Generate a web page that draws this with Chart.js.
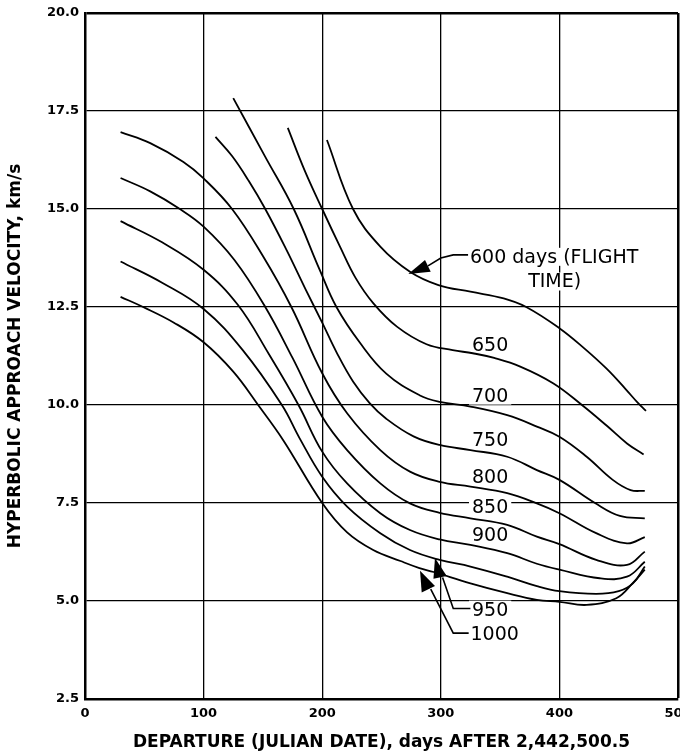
<!DOCTYPE html>
<html>
<head>
<meta charset="utf-8">
<script src="https://cdn.jsdelivr.net/npm/chart.js@4.4.1/dist/chart.umd.min.js"></script>
<style>
  html, body { margin: 0; padding: 0; background: #fff; }
</style>
</head>
<body>
<canvas id="myChart" width="680" height="755"></canvas>
<script>
// departure day (x) and approach velocity km/s (y) for each flight time curve
const days600 = [204, 226, 249, 274, 298, 325, 353, 372, 400, 420, 440, 456, 466, 473];
const vel600 = [16.76, 15.0, 14.04, 13.40, 13.06, 12.89, 12.72, 12.5, 11.96, 11.47, 10.92, 10.4, 10.06, 9.85];

const days650 = [171, 185, 200, 215, 228, 243, 263, 288, 310, 327, 345, 367, 395, 419, 440, 457, 471];
const vel650 = [17.07, 16.0, 15.0, 14.04, 13.25, 12.6, 12.0, 11.55, 11.4, 11.32, 11.2, 10.98, 10.55, 10.0, 9.47, 9.02, 8.74];

const days700 = [125, 152, 176, 198, 212, 232, 254, 282, 299, 325, 356, 381, 400, 423, 445, 460, 472];
const vel700 = [17.83, 16.33, 15.0, 13.44, 12.5, 11.58, 10.8, 10.25, 10.08, 9.96, 9.74, 9.45, 9.19, 8.68, 8.09, 7.83, 7.81];

const days750 = [110, 124, 138, 152, 170, 186, 200, 212, 226, 240, 254, 277, 299, 325, 356, 381, 400, 430, 451, 472];
const vel750 = [16.84, 16.35, 15.72, 15.0, 13.95, 12.95, 12.1, 11.35, 10.6, 10.05, 9.65, 9.2, 8.98, 8.85, 8.68, 8.34, 8.09, 7.5, 7.17, 7.11];

const days800 = [30, 55, 83, 100, 124, 150, 174, 200, 221, 249, 274, 299, 325, 356, 381, 400, 431, 457, 472];
const vel800 = [16.96, 16.68, 16.2, 15.78, 15.0, 13.8, 12.5, 10.81, 9.79, 8.85, 8.3, 8.04, 7.92, 7.75, 7.49, 7.24, 6.73, 6.47, 6.63];

const days850 = [30, 55, 80, 100, 126, 152, 175, 200, 221, 249, 274, 299, 325, 356, 381, 400, 431, 457, 472];
const vel850 = [15.79, 15.45, 15.0, 14.55, 13.7, 12.5, 11.2, 9.7, 8.85, 8.0, 7.49, 7.25, 7.11, 6.94, 6.64, 6.45, 6.05, 5.92, 6.26];

const days900 = [30, 65, 100, 129, 155, 180, 200, 221, 249, 274, 299, 325, 356, 381, 400, 434, 457, 472];
const vel900 = [14.69, 14.15, 13.45, 12.55, 11.3, 10.0, 8.81, 8.0, 7.24, 6.81, 6.57, 6.43, 6.22, 5.95, 5.8, 5.58, 5.62, 6.0];

const days950 = [30, 65, 100, 133, 166, 181, 200, 221, 249, 274, 299, 325, 356, 381, 400, 431, 450, 462, 472];
const vel950 = [13.66, 13.12, 12.45, 11.4, 10.0, 9.15, 8.17, 7.41, 6.73, 6.3, 6.05, 5.88, 5.62, 5.38, 5.25, 5.18, 5.25, 5.45, 5.88];

const days1000 = [30, 49, 75, 100, 125, 146, 167, 200, 221, 243, 266, 282, 294, 325, 356, 381, 400, 423, 448, 462, 472];
const vel1000 = [12.76, 12.5, 12.1, 11.6, 10.85, 10.0, 9.11, 7.5, 6.75, 6.3, 6.02, 5.84, 5.74, 5.45, 5.2, 5.03, 4.98, 4.9, 5.07, 5.46, 5.8];

const flightTimes = ['600', '650', '700', '750', '800', '850', '900', '950', '1000'];
const xTicks = [0, 100, 200, 300, 400, 500];
const yTicks = [2.5, 5, 7.5, 10, 12.5, 15, 17.5, 20];

const curves = [
  [days600, vel600], [days650, vel650], [days700, vel700], [days750, vel750],
  [days800, vel800], [days850, vel850], [days900, vel900], [days950, vel950], [days1000, vel1000]
];

// curve labels, placed in data units
const notes = [
  { text: '600 days (FLIGHT', x: 324.6, y: 13.78, align: 'left' },
  { text: 'TIME)', x: 396, y: 13.15, align: 'center' },
  { text: '650', x: 326.3, y: 11.54, align: 'left' },
  { text: '700', x: 326.3, y: 10.24, align: 'left' },
  { text: '750', x: 326.3, y: 9.11, align: 'left' },
  { text: '800', x: 326.3, y: 8.17, align: 'left' },
  { text: '850', x: 326.3, y: 7.39, align: 'left' },
  { text: '900', x: 326.3, y: 6.67, align: 'left' },
  { text: '950', x: 326.3, y: 4.78, align: 'left' },
  { text: '1000', x: 325.0, y: 4.15, align: 'left' }
];

const arrows = [
  { tip: [272.6, 13.34], base: [[286.7, 13.70], [291.5, 13.40]], lead: [[289.2, 13.55], [300, 13.75], [310.5, 13.83], [323, 13.83]] },
  { tip: [295.1, 6.10], base: [[293.8, 5.57], [305.0, 5.64]], lead: [[301.5, 5.6], [310.5, 4.81], [325, 4.81]] },
  { tip: [282.5, 5.77], base: [[283.9, 5.22], [295.1, 5.38]], lead: [[291.5, 5.3], [310.5, 4.18], [323.5, 4.18]] }
];

const FONT = "'DejaVu Sans', 'Liberation Sans', sans-serif";

const datasets = curves.map((c, i) => ({
  label: flightTimes[i],
  data: c[0].map((d, k) => ({ x: d, y: c[1][k] })),
  borderColor: '#000',
  borderWidth: 1.8,
  pointRadius: 0,
  tension: 0.4,
  fill: false
}));

function px(chart, p) {
  return [chart.scales.x.getPixelForValue(p[0]), chart.scales.y.getPixelForValue(p[1])];
}

const notesPlugin = {
  id: 'notes',
  beforeDatasetsDraw(chart) {
    const ctx = chart.ctx;
    ctx.save();
    ctx.font = '19px ' + FONT;
    ctx.fillStyle = '#fff';
    notes.forEach(n => {
      const [x, y] = px(chart, [n.x, n.y]);
      const w = ctx.measureText(n.text).width;
      const left = n.align === 'center' ? x - w / 2 : x;
      ctx.fillRect(left - 3, y - 9, w + 6, 18);
    });
    ctx.restore();
  },
  afterDatasetsDraw(chart) {
    const ctx = chart.ctx;
    ctx.save();
    ctx.font = '19px ' + FONT;
    ctx.fillStyle = '#000';
    ctx.textBaseline = 'middle';
    notes.forEach(n => {
      const [x, y] = px(chart, [n.x, n.y]);
      ctx.textAlign = n.align;
      ctx.fillText(n.text, x, y + 1);
    });
    ctx.strokeStyle = '#000';
    ctx.lineWidth = 1.6;
    arrows.forEach(a => {
      const t = px(chart, a.tip);
      const b1 = px(chart, a.base[0]);
      const b2 = px(chart, a.base[1]);
      ctx.beginPath();
      ctx.moveTo(t[0], t[1]);
      ctx.lineTo(b1[0], b1[1]);
      ctx.lineTo(b2[0], b2[1]);
      ctx.closePath();
      ctx.fill();
      ctx.beginPath();
      a.lead.forEach((p, k) => {
        const q = px(chart, p);
        if (k === 0) ctx.moveTo(q[0], q[1]); else ctx.lineTo(q[0], q[1]);
      });
      ctx.stroke();
    });
    ctx.restore();
  }
};

const ctx = document.getElementById('myChart').getContext('2d');
const myChart = new Chart(ctx, {
  type: 'line',
  data: { datasets: datasets },
  plugins: [notesPlugin],
  options: {
    responsive: false,
    animation: false,
    layout: { padding: { top: 13, right: 2, left: 0, bottom: 0 } },
    plugins: { legend: { display: false }, tooltip: { enabled: false } },
    scales: {
      x: {
        type: 'linear',
        min: 0,
        max: 500,
        afterBuildTicks: s => { s.ticks = xTicks.map(v => ({ value: v })); },
        ticks: { color: '#000', font: { family: FONT, size: 13, weight: 'bold' }, padding: 7, maxRotation: 0, autoSkip: false },
        grid: { color: '#000', lineWidth: c => (c.tick && c.tick.value === 500 ? 2.5 : 1.3), drawTicks: false },
        border: { display: true, color: '#000', width: 2.5 },
        title: {
          display: true,
          text: 'DEPARTURE (JULIAN DATE), days AFTER 2,442,500.5',
          color: '#000',
          font: { family: FONT, size: 17, weight: 'bold' },
          padding: { top: 0, bottom: 2 }
        },
        afterFit: s => { s.height = 56; s.paddingLeft = 0; s.paddingRight = 0; }
      },
      y: {
        type: 'linear',
        min: 2.5,
        max: 20,
        afterBuildTicks: s => { s.ticks = yTicks.map(v => ({ value: v })); },
        ticks: { color: '#000', font: { family: FONT, size: 13, weight: 'bold' }, padding: 6, callback: v => v.toFixed(1) },
        grid: { color: '#000', lineWidth: c => (c.tick && c.tick.value === 20 ? 2.5 : 1.3), drawTicks: false },
        border: { display: true, color: '#000', width: 2.5 },
        title: {
          display: true,
          text: 'HYPERBOLIC APPROACH VELOCITY, km/s',
          color: '#000',
          font: { family: FONT, size: 17, weight: 'bold' },
          padding: { top: 5, bottom: 0 }
        },
        afterFit: s => { s.width = 85; s.paddingTop = 0; s.paddingBottom = 0; }
      }
    }
  }
});
</script>
</body>
</html>
